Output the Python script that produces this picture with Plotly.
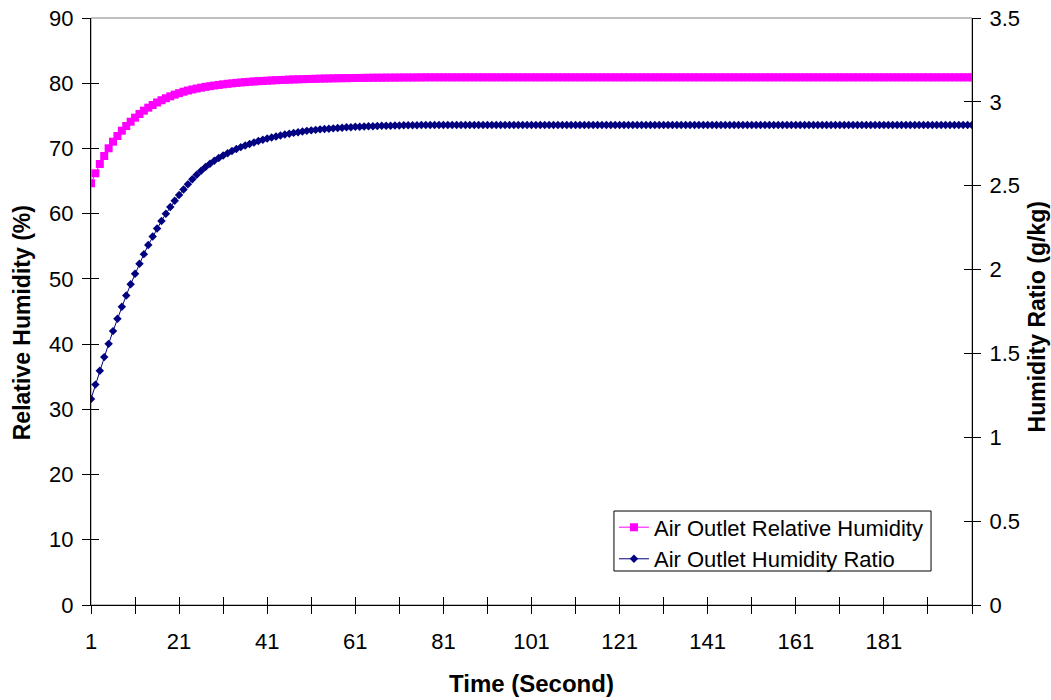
import plotly.graph_objects as go

# ---- data ----
time_s = list(range(1, 202))

rel_humidity = [
    64.66, 66.19, 67.62, 68.84, 70.02, 71.04, 71.91, 72.72, 73.44, 74.10,
    74.72, 75.28, 75.79, 76.25, 76.66, 77.05, 77.39, 77.70, 77.99, 78.25,
    78.48, 78.70, 78.88, 79.04, 79.19, 79.32, 79.44, 79.55, 79.65, 79.74,
    79.83, 79.91, 79.98, 80.05, 80.11, 80.17, 80.22, 80.27, 80.31, 80.35,
    80.39, 80.43, 80.46, 80.49, 80.52, 80.55, 80.58, 80.60, 80.62, 80.64,
    80.66, 80.68, 80.70, 80.72, 80.73, 80.75, 80.76, 80.77, 80.78, 80.79,
    80.80, 80.81, 80.82, 80.83, 80.84, 80.85, 80.85, 80.86, 80.86, 80.87,
    80.87, 80.88, 80.88, 80.88, 80.89, 80.89,
    80.9, 80.9, 80.9, 80.9, 80.9, 80.9, 80.9, 80.9, 80.9, 80.9, 80.9, 80.9, 80.9, 80.9, 80.9, 80.9, 80.9, 80.9, 80.9, 80.9, 80.9, 80.9, 80.9, 80.9, 80.9,
    80.9, 80.9, 80.9, 80.9, 80.9, 80.9, 80.9, 80.9, 80.9, 80.9, 80.9, 80.9, 80.9, 80.9, 80.9, 80.9, 80.9, 80.9, 80.9, 80.9, 80.9, 80.9, 80.9, 80.9, 80.9,
    80.9, 80.9, 80.9, 80.9, 80.9, 80.9, 80.9, 80.9, 80.9, 80.9, 80.9, 80.9, 80.9, 80.9, 80.9, 80.9, 80.9, 80.9, 80.9, 80.9, 80.9, 80.9, 80.9, 80.9, 80.9,
    80.9, 80.9, 80.9, 80.9, 80.9, 80.9, 80.9, 80.9, 80.9, 80.9, 80.9, 80.9, 80.9, 80.9, 80.9, 80.9, 80.9, 80.9, 80.9, 80.9, 80.9, 80.9, 80.9, 80.9, 80.9,
    80.9, 80.9, 80.9, 80.9, 80.9, 80.9, 80.9, 80.9, 80.9, 80.9, 80.9, 80.9, 80.9, 80.9, 80.9, 80.9, 80.9, 80.9, 80.9, 80.9, 80.9, 80.9, 80.9, 80.9, 80.9,
]

humidity_ratio = [
    1.228, 1.314, 1.397, 1.478, 1.557, 1.633, 1.707, 1.778, 1.846, 1.912,
    1.975, 2.035, 2.092, 2.146, 2.197, 2.245, 2.290, 2.333, 2.373, 2.410,
    2.445, 2.478, 2.509, 2.538, 2.565, 2.589, 2.611, 2.631, 2.649, 2.665,
    2.680, 2.694, 2.707, 2.719, 2.730, 2.740, 2.749, 2.758, 2.766, 2.774,
    2.781, 2.788, 2.794, 2.800, 2.805, 2.810, 2.815, 2.819, 2.823, 2.827,
    2.830, 2.833, 2.836, 2.838, 2.840, 2.842, 2.844, 2.846, 2.848, 2.849,
    2.851, 2.852, 2.853, 2.854, 2.855, 2.856, 2.857, 2.858, 2.858, 2.859,
    2.859, 2.860, 2.860, 2.861, 2.861, 2.862,
    2.862, 2.862, 2.862, 2.862, 2.862, 2.862, 2.862, 2.862, 2.862, 2.862, 2.862, 2.862, 2.862, 2.862, 2.862, 2.862, 2.862, 2.862, 2.862, 2.862, 2.862, 2.862, 2.862, 2.862, 2.862,
    2.862, 2.862, 2.862, 2.862, 2.862, 2.862, 2.862, 2.862, 2.862, 2.862, 2.862, 2.862, 2.862, 2.862, 2.862, 2.862, 2.862, 2.862, 2.862, 2.862, 2.862, 2.862, 2.862, 2.862, 2.862,
    2.862, 2.862, 2.862, 2.862, 2.862, 2.862, 2.862, 2.862, 2.862, 2.862, 2.862, 2.862, 2.862, 2.862, 2.862, 2.862, 2.862, 2.862, 2.862, 2.862, 2.862, 2.862, 2.862, 2.862, 2.862,
    2.862, 2.862, 2.862, 2.862, 2.862, 2.862, 2.862, 2.862, 2.862, 2.862, 2.862, 2.862, 2.862, 2.862, 2.862, 2.862, 2.862, 2.862, 2.862, 2.862, 2.862, 2.862, 2.862, 2.862, 2.862,
    2.862, 2.862, 2.862, 2.862, 2.862, 2.862, 2.862, 2.862, 2.862, 2.862, 2.862, 2.862, 2.862, 2.862, 2.862, 2.862, 2.862, 2.862, 2.862, 2.862, 2.862, 2.862, 2.862, 2.862, 2.862,
]

x_tick_vals = list(range(1, 202, 10))
x_tick_text = ["1", "", "21", "", "41", "", "61", "", "81", "", "101", "", "121", "",
               "141", "", "161", "", "181", "", ""]
left_tick_vals = [0, 10, 20, 30, 40, 50, 60, 70, 80, 90]
right_tick_vals = [0, 0.5, 1, 1.5, 2, 2.5, 3, 3.5]

FONT = "Liberation Sans, Arial, sans-serif"
TICKFONT = dict(family=FONT, size=22, color="black")

fig = go.Figure()
fig.add_trace(go.Scatter(
    x=time_s, y=rel_humidity, name="Air Outlet Relative Humidity",
    mode="lines+markers", yaxis="y",
    line=dict(color="#FF00FF", width=1),
    marker=dict(symbol="square", size=8, color="#FF00FF"),
))
fig.add_trace(go.Scatter(
    x=time_s, y=humidity_ratio, name="Air Outlet Humidity Ratio",
    mode="lines+markers", yaxis="y2",
    line=dict(color="#000080", width=1),
    marker=dict(symbol="diamond", size=6.5, color="#000080"),
))

common_x = dict(range=[1, 201], tickmode="array", tickvals=x_tick_vals,
                showgrid=False, zeroline=False, automargin=False)
common_yl = dict(range=[0, 90], tickmode="array", tickvals=left_tick_vals,
                 showgrid=False, zeroline=False, automargin=False)
common_yr = dict(range=[0, 3.5], tickmode="array", tickvals=right_tick_vals,
                 showgrid=False, zeroline=False, automargin=False)

fig.update_layout(
    width=1051, height=700,
    margin=dict(l=91, r=79, t=18, b=95),
    paper_bgcolor="white", plot_bgcolor="white",
    font=dict(family=FONT, size=22, color="black"),
    showlegend=True,
    xaxis=dict(**common_x, ticktext=x_tick_text, ticks="outside", ticklen=8,
               tickcolor="black", showline=True, linecolor="black", linewidth=1,
               tickfont=TICKFONT, ticklabelstandoff=9),
    xaxis2=dict(**common_x, overlaying="x", ticks="inside", ticklen=8,
                tickcolor="black", showticklabels=False, showline=False),
    yaxis=dict(**common_yl, ticks="outside", ticklen=8, tickcolor="black",
               showline=True, linecolor="black", linewidth=1, tickfont=TICKFONT,
               ticklabelstandoff=4),
    yaxis3=dict(**common_yl, overlaying="y", ticks="inside", ticklen=8,
                tickcolor="black", showticklabels=False, showline=False),
    yaxis2=dict(**common_yr, overlaying="y", side="right", ticks="outside",
                ticklen=8, tickcolor="black", showline=True, linecolor="black",
                linewidth=1, tickfont=TICKFONT, ticklabelstandoff=4),
    yaxis4=dict(**common_yr, overlaying="y", side="right", ticks="inside",
                ticklen=8, tickcolor="black", showticklabels=False, showline=False),
    legend=dict(x=0.5936, y=0.168, xanchor="left", yanchor="top",
                bgcolor="rgba(0,0,0,0)", borderwidth=0,
                font=dict(family=FONT, size=22, color="black"),
                tracegroupgap=0),
    shapes=[
        dict(type="rect", xref="paper", yref="paper", x0=0, x1=1, y0=0, y1=1,
             line=dict(color="#808080", width=1), layer="below"),
        dict(type="rect", xref="paper", yref="paper", x0=0.5936, x1=0.9535,
             y0=0.0579, y1=0.1601, line=dict(color="black", width=1),
             fillcolor="white", layer="above"),
    ],
    annotations=[
        dict(text="<b>Relative Humidity (%)</b>", xref="paper", yref="paper",
             x=-0.0783, y=0.48, xanchor="center", yanchor="middle",
             textangle=-90, showarrow=False,
             font=dict(family=FONT, size=23, color="black")),
        dict(text="<b>Humidity Ratio (g/kg)</b>", xref="paper", yref="paper",
             x=1.0738, y=0.49, xanchor="center", yanchor="middle",
             textangle=-90, showarrow=False,
             font=dict(family=FONT, size=23, color="black")),
        dict(text="<b>Time (Second)</b>", xref="paper", yref="paper",
             x=0.5, y=-0.1329, xanchor="center", yanchor="middle",
             showarrow=False, font=dict(family=FONT, size=24, color="black")),
    ],
)

# dummy traces to activate the overlay tick axes (no visible data)
fig.add_trace(go.Scatter(x=[None], y=[None], xaxis="x2", yaxis="y3",
                         showlegend=False, hoverinfo="skip"))
fig.add_trace(go.Scatter(x=[None], y=[None], xaxis="x2", yaxis="y4",
                         showlegend=False, hoverinfo="skip"))

fig.write_html("out.html")
